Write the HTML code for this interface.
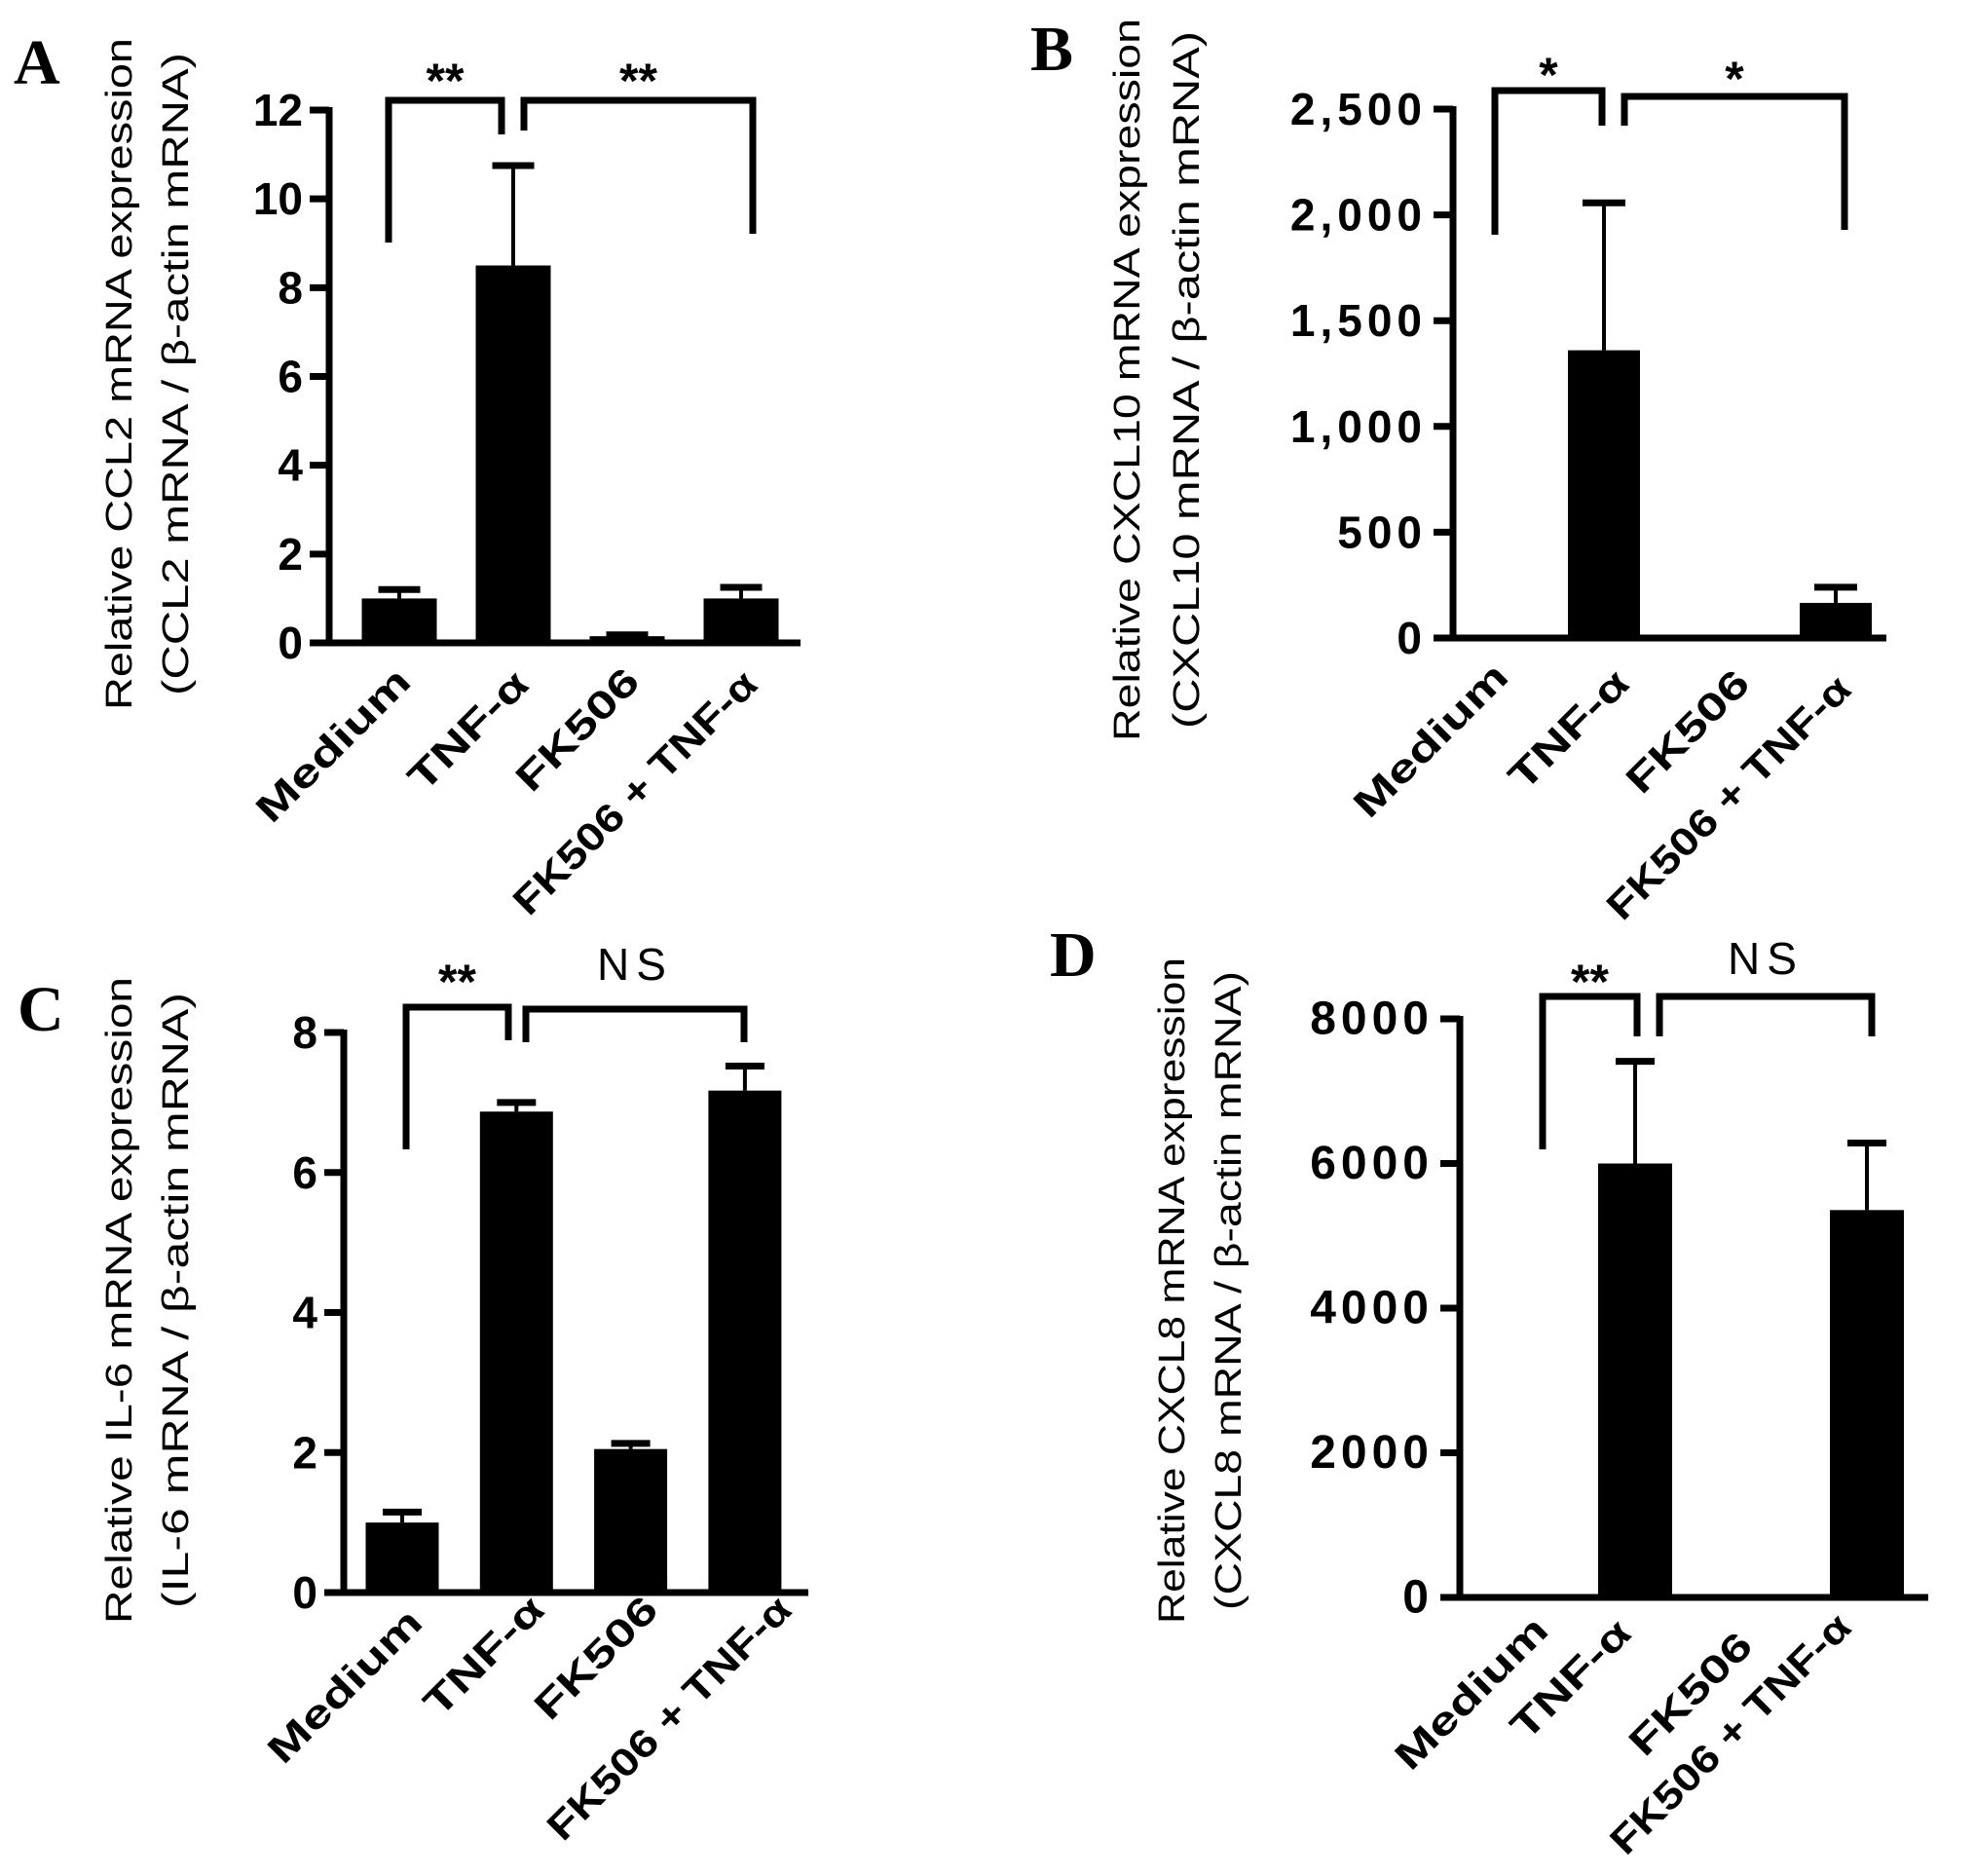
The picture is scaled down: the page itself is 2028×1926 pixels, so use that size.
<!DOCTYPE html>
<html><head><meta charset="utf-8"><style>
html,body{margin:0;padding:0;background:#fff;}
svg{display:block;}
text{fill:#000;}
.t{font-family:"Liberation Sans",sans-serif;}
</style></head><body>
<svg id="fig" width="2028" height="1926" viewBox="0 0 2028 1926" xmlns="http://www.w3.org/2000/svg"></svg>
<script>
// ---------- data ----------
const categories = ["Medium", "TNF-α", "FK506", "FK506 + TNF-α"];
const categoriesD = ["Medium", "TNF-α", "FK506", "FK506  + TNF-α"];

const ccl2Values = [1.0, 8.5, 0.15, 1.0];
const ccl2Errors = [0.2, 2.25, 0.03, 0.25];
const ccl2Ticks = [0, 2, 4, 6, 8, 10, 12];
const ccl2TickLabels = ["0", "2", "4", "6", "8", "10", "12"];

const cxcl10Values = [0, 1360, 0, 166];
const cxcl10Errors = [0, 697, 0, 74];
const cxcl10Ticks = [0, 500, 1000, 1500, 2000, 2500];
const cxcl10TickLabels = ["0", "500", "1,000", "1,500", "2,000", "2,500"];

const il6Values = [1.0, 6.87, 2.05, 7.17];
const il6Errors = [0.15, 0.13, 0.08, 0.35];
const il6Ticks = [0, 2, 4, 6, 8];
const il6TickLabels = ["0", "2", "4", "6", "8"];

const cxcl8Values = [0, 6000, 0, 5356];
const cxcl8Errors = [0, 1413, 0, 927];
const cxcl8Ticks = [0, 2000, 4000, 6000, 8000];
const cxcl8TickLabels = ["0", "2000", "4000", "6000", "8000"];

const sigA = ["**", "**"];
const sigB = ["*", "*"];
const sigC = ["**", "NS"];
const sigD = ["**", "NS"];

// ---------- drawing ----------
const NS_ = "http://www.w3.org/2000/svg";
const svg = document.getElementById("fig");
function mk(tag, attrs, parent) {
  const e = document.createElementNS(NS_, tag);
  for (const k in attrs) e.setAttribute(k, attrs[k]);
  (parent || svg).appendChild(e);
  return e;
}

function panel(p) {
  const g = mk("g", {});
  
  
  const ymax = p.ticks[p.ticks.length - 1];
  const yScale = v => p.y0 - (v / ymax) * (p.y0 - p.yTop);
  const xScale = i => p.x0c + i * p.step;

  const L = mk("text", {x: p.letter[1], y: p.letter[2], "font-family": '"Liberation Serif",serif', "font-weight": "bold", "font-size": 66}, g);
  L.textContent = p.letter[0];
  
  

  p.titles.forEach((t, k) => {
    const T = mk("text", {x: 0, y: 0, transform: `translate(${t[1]},${p.titleCY}) rotate(-90)`, "text-anchor": "middle", "dominant-baseline": "central", "font-size": 38, textLength: t[2], lengthAdjust: "spacingAndGlyphs", class: "t"}, g);
    T.textContent = t[0];
    
    
  });

  p.values.forEach((v, i) => {
    const cx = xScale(i);
    if (v > 0) {
      const r = mk("rect", {x: cx - p.bw / 2, y: yScale(v), width: p.bw, height: p.y0 - yScale(v), fill: "#000"}, g);
      
      
    }
    if (p.errors[i] > 0) {
      const top = yScale(v + p.errors[i]);
      const l = mk("line", {x1: cx, x2: cx, y1: yScale(v), y2: top, stroke: "#000", "stroke-width": 4}, g);
      
      
      const c = mk("line", {x1: cx - p.cap / 2, x2: cx + p.cap / 2, y1: top, y2: top, stroke: "#000", "stroke-width": 7}, g);
      
      
    }
  });

  const ya = mk("line", {x1: p.x0, x2: p.x0, y1: yScale(ymax) - 3, y2: p.y0 + 3, stroke: "#000", "stroke-width": 7}, g);
  
  
  const xa = mk("line", {x1: p.x0 - 3, x2: p.xEnd, y1: p.y0, y2: p.y0, stroke: "#000", "stroke-width": 7}, g);
  
  

  p.ticks.forEach((tv, k) => {
    const y = yScale(tv);
    const tk = mk("line", {x1: p.x0 - 20, x2: p.x0, y1: y, y2: y, stroke: "#000", "stroke-width": 7}, g);
    
    
    const tl = mk("text", {x: p.x0 - 27, y: y, "text-anchor": "end", "dominant-baseline": "central", "font-size": p.tfs || 46, "font-weight": "bold", class: "t", "letter-spacing": p.ls || 0}, g);
    tl.textContent = p.tickLabels[k];
    
    
  });

  p.cats.forEach((c, i) => {
    const a = p.labelAnchors[i];
    const xl = mk("text", {x: 0, y: 0, transform: `translate(${a[0]},${a[1]}) rotate(-45)`, "text-anchor": "end", "font-size": 40, "font-weight": "bold", class: "t", textLength: p.labelLens[i], lengthAdjust: "spacingAndGlyphs"}, g);
    xl.textContent = c;
    
    
  });

  p.brackets.forEach((b, k) => {
    const pl = mk("polyline", {points: `${b[0]},${b[3]} ${b[0]},${b[2]} ${b[1]},${b[2]} ${b[1]},${b[4]}`, fill: "none", stroke: "#000", "stroke-width": 7}, g);
    
    
    const lab = p.sig[k];
    const isNS = lab === "NS";
    const st = mk("text", {x: (b[0] + b[1]) / 2, y: isNS ? b[5] + 16 : b[5] + 28, "text-anchor": "middle", "font-size": isNS ? 46 : 50, "font-weight": isNS ? "normal" : "bold", class: "t", "letter-spacing": isNS ? 7 : 0}, g);
    st.textContent = lab;
    
    
  });
}

const stdLens = [205, 155, 160, 335];

panel({name: "panel-a-ccl2", letter: ["A", 14, 86], values: ccl2Values, errors: ccl2Errors, ticks: ccl2Ticks, tickLabels: ccl2TickLabels,
  x0: 338, xEnd: 822, y0: 660, yTop: 113, x0c: 410, step: 117, bw: 77, cap: 43, cats: categories,
  titleCY: 384, titles: [["Relative CCL2 mRNA expression", 123, 690], ["(CCL2 mRNA / β-actin mRNA)", 181, 660]],
  labelAnchors: [[424, 702], [545, 705], [659, 702], [780, 705]], labelLens: stdLens,
  brackets: [[399, 515, 103, 249, 138, 72], [538, 773, 103, 134, 240, 72]], sig: sigA});

panel({name: "panel-b-cxcl10", letter: ["B", 1058, 72], values: cxcl10Values, errors: cxcl10Errors, ticks: cxcl10Ticks, tickLabels: cxcl10TickLabels,
  x0: 1492, xEnd: 1937, y0: 655, yTop: 112, x0c: 1528, step: 119, bw: 74, cap: 44, cats: categories, ls: 5,
  titleCY: 390, titles: [["Relative CXCL10 mRNA expression", 1158, 742], ["(CXCL10 mRNA / β-actin mRNA)", 1219, 716]],
  labelAnchors: [[1551, 697], [1675, 704], [1799, 704], [1903, 710]], labelLens: stdLens,
  brackets: [[1535, 1645, 93, 241, 129, 66], [1668, 1894, 99, 129, 236, 70]], sig: sigB});

panel({name: "panel-c-il6", letter: ["C", 18, 1058], values: il6Values, errors: il6Errors, ticks: il6Ticks, tickLabels: il6TickLabels,
  x0: 353, xEnd: 830, y0: 1635, yTop: 1060, x0c: 413, step: 117.3, bw: 75, cap: 40, cats: categories,
  titleCY: 1335, titles: [["Relative IL-6 mRNA expression", 123, 664], ["(IL-6 mRNA / β-actin mRNA)", 181, 632]],
  labelAnchors: [[436, 1668], [561, 1655], [678, 1655], [815, 1655]], labelLens: stdLens,
  brackets: [[417, 522, 1034, 1180, 1068, 997], [540, 764, 1036, 1070, 1070, 990]], sig: sigC});

panel({name: "panel-d-cxcl8", letter: ["D", 1078, 1002], values: cxcl8Values, errors: cxcl8Errors, ticks: cxcl8Ticks, tickLabels: cxcl8TickLabels,
  x0: 1499, xEnd: 1980, y0: 1640, yTop: 1046, x0c: 1560, step: 119, bw: 76, cap: 40, cats: categoriesD, ls: 5, tfs: 48,
  titleCY: 1325, titles: [["Relative CXCL8 mRNA expression", 1204, 684], ["(CXCL8 mRNA / β-actin mRNA)", 1262, 656]],
  labelAnchors: [[1592, 1676], [1677, 1679], [1802, 1692], [1903, 1673]], labelLens: [203, 155, 160, 330],
  brackets: [[1584, 1681, 1023, 1180, 1064, 997], [1704, 1922, 1023, 1064, 1064, 984]], sig: sigD});
</script>
</body></html>
